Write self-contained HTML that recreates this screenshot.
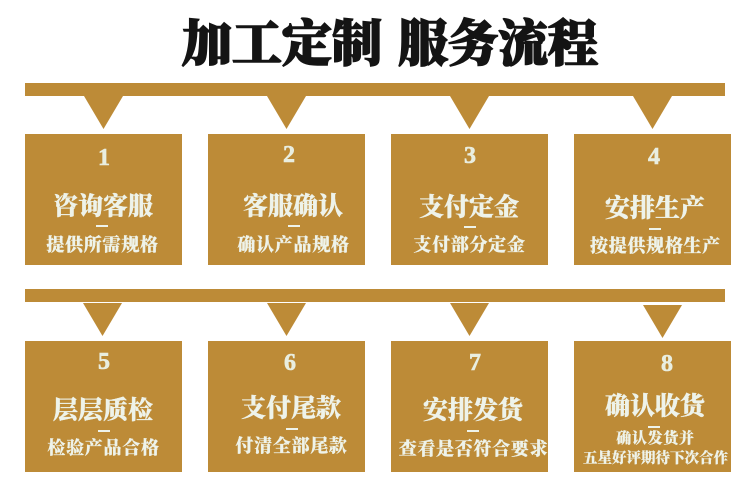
<!DOCTYPE html>
<html><head><meta charset="utf-8">
<style>
html,body{margin:0;padding:0;background:#fff;width:750px;height:484px;overflow:hidden}
svg{display:block}
text{font-family:"Liberation Serif","Noto Serif CJK SC",serif;font-weight:900;text-anchor:middle;dominant-baseline:central}
.t{font-size:50px;fill:#141414;stroke:#141414;stroke-width:1.6px}
.n{font-size:24px;fill:#e9eee0;font-weight:700;stroke:#e9eee0;stroke-width:.6px}
.h{font-size:25px;fill:#eef3ea;stroke:#eef3ea;stroke-width:.3px}
.s{font-size:18px;letter-spacing:.7px;fill:#eef3ea;stroke:#eef3ea;stroke-width:.2px}
</style></head><body>
<svg width="750" height="484" viewBox="0 0 750 484" xmlns="http://www.w3.org/2000/svg">
<rect width="750" height="484" fill="#fff"/>
<text class="t" x="282" y="44">加工定制</text>
<text class="t" x="498" y="44">服务流程</text>
<g fill="#bd8b37">
<rect x="25" y="83" width="700" height="13"/>
<rect x="25" y="289" width="700" height="13"/>
<rect x="25" y="134" width="157" height="131"/>
<rect x="208" y="134" width="157" height="131"/>
<rect x="391" y="134" width="157" height="131"/>
<rect x="574" y="134" width="157" height="131"/>
<rect x="25" y="341" width="157" height="131"/>
<rect x="208" y="341" width="157" height="131"/>
<rect x="391" y="341" width="157" height="131"/>
<rect x="574" y="341" width="157" height="131"/>
<polygon points="84,96 123,96 103.5,129"/>
<polygon points="267,96 306,96 286.500,129"/>
<polygon points="450,96 489,96 469.500,129"/>
<polygon points="633,96 672,96 652.500,129"/>
<polygon points="83,303 122,303 102.500,336"/>
<polygon points="267,303 306,303 286.500,336"/>
<polygon points="450,303 489,303 469.500,336"/>
<polygon points="643,305 682,305 662.500,338"/>
</g>
<g fill="#eef3ea">
<rect x="96" y="225" width="12" height="2"/>
<rect x="288" y="225" width="12" height="2"/>
<rect x="464" y="226" width="12" height="2"/>
<rect x="649" y="228" width="12" height="2"/>
<rect x="98" y="430" width="12" height="2"/>
<rect x="286" y="428" width="12" height="2"/>
<rect x="467" y="430" width="12" height="2"/>
<rect x="648" y="426" width="12" height="2"/>
</g>
<text class="n" x="104" y="158">1</text>
<text class="h" x="103" y="207">咨询客服</text>
<text class="s" x="102.500" y="245">提供所需规格</text>
<text class="n" x="289" y="155">2</text>
<text class="h" x="293" y="207">客服确认</text>
<text class="s" x="293.500" y="245">确认产品规格</text>
<text class="n" x="470" y="156">3</text>
<text class="h" x="469" y="208">支付定金</text>
<text class="s" x="469.500" y="245">支付部分定金</text>
<text class="n" x="654" y="157">4</text>
<text class="h" x="655" y="209">安排生产</text>
<text class="s" x="655.500" y="246">按提供规格生产</text>
<text class="n" x="104" y="362">5</text>
<text class="h" x="103" y="411">层层质检</text>
<text class="s" x="103.500" y="448">检验产品合格</text>
<text class="n" x="290" y="363">6</text>
<text class="h" x="291" y="409">支付尾款</text>
<text class="s" x="291.500" y="446">付清全部尾款</text>
<text class="n" x="475" y="363">7</text>
<text class="h" x="473" y="411">安排发货</text>
<text class="s" x="473.500" y="449">查看是否符合要求</text>
<text class="n" x="667" y="364">8</text>
<text class="h" x="655" y="407">确认收货</text>
<text class="s" x="655.500" y="439" style="font-size:15px">确认发货并</text>
<text class="s" x="655.500" y="459" style="font-size:14.500px;letter-spacing:0">五星好评期待下次合作</text>
</svg>
</body></html>
